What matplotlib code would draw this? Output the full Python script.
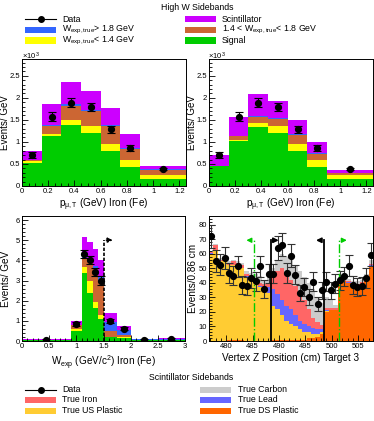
import numpy as np
import matplotlib
matplotlib.use('Agg')
import matplotlib.pyplot as plt
from matplotlib.patches import Rectangle
from matplotlib.lines import Line2D

plt.rcParams['font.family'] = ['Liberation Sans', 'DejaVu Sans']
plt.rcParams['mathtext.fontset'] = 'custom'
plt.rcParams['mathtext.rm'] = 'Liberation Sans'
plt.rcParams['mathtext.it'] = 'Liberation Sans:italic'
plt.rcParams['mathtext.bf'] = 'Liberation Sans:bold'

# ---------------- colours ----------------
C_SIG = '#00cc00'
C_LOW = '#ffff00'
C_MID = '#cc6633'
C_HIGH = '#3366ff'
C_SCI = '#cc00ff'
C_CARBON = '#cccccc'
C_IRON = '#ff6666'
C_LEAD = '#6666ff'
C_USP = '#ffcc33'
C_DSP = '#ff6600'

# ---------------- top panels: p_mu,T (x10^3 events/GeV) ----------------
pt_edges = [0.0, 0.15, 0.30, 0.45, 0.60, 0.75, 0.90, 1.25]
pt_data = [0.70, 1.57, 1.89, 1.79, 1.29, 0.87, 0.38]
pt_err = [0.06, 0.10, 0.10, 0.10, 0.08, 0.07, 0.02]

ptL_signal = [0.52, 1.14, 1.39, 1.21, 0.80, 0.43, 0.15]
ptL_wlow = [0.04, 0.03, 0.10, 0.15, 0.15, 0.17, 0.09]
ptL_wmid = [0.03, 0.20, 0.33, 0.33, 0.41, 0.24, 0.12]
ptL_whigh = [0.01, 0.01, 0.03, 0.03, 0.02, 0.03, 0.02]
ptL_scint = [0.20, 0.48, 0.51, 0.44, 0.38, 0.30, 0.07]

ptR_signal = [0.46, 1.02, 1.34, 1.20, 0.80, 0.43, 0.15]
ptR_wlow = [0.00, 0.03, 0.08, 0.16, 0.16, 0.17, 0.09]
ptR_wmid = [0.00, 0.08, 0.15, 0.16, 0.19, 0.12, 0.06]
ptR_whigh = [0.00, 0.00, 0.02, 0.02, 0.03, 0.03, 0.00]
ptR_scint = [0.25, 0.43, 0.49, 0.38, 0.31, 0.24, 0.07]

# ---------------- bottom-left: W_exp ----------------
w_edges = [0.0, 0.9, 1.1, 1.2, 1.3, 1.4, 1.5, 1.75, 2.0, 2.5, 3.0]
w_data = [0.05, 0.83, 4.30, 4.03, 3.41, 3.00, 1.00, 0.62, 0.05, 0.12]
w_err = [0.03, 0.10, 0.20, 0.20, 0.20, 0.20, 0.10, 0.08, 0.03, 0.05]
w_signal = [0.03, 0.51, 3.36, 2.40, 1.62, 1.10, 0.18, 0.13, 0.03, 0.03]
w_wlow = [0.01, 0.08, 0.33, 0.60, 0.33, 0.20, 0.04, 0.05, 0.01, 0.01]
w_wmid = [0.02, 0.20, 0.41, 0.90, 1.65, 1.70, 0.30, 0.12, 0.02, 0.03]
w_whigh = [0.01, 0.02, 0.05, 0.10, 0.10, 0.20, 0.44, 0.25, 0.02, 0.03]
w_scint = [0.03, 0.19, 1.00, 0.90, 0.85, 0.80, 0.41, 0.21, 0.02, 0.05]
w_cut = 1.5
w_cut_top = 5.0
w_cut_arrow = 1.72

# ---------------- bottom-right: vertex Z ----------------
z_start = 476.75
z_width = 0.84
z_nbins = 37
z_data = [72, 55, 52.6, 57.4, 46.8, 45, 51.4, 38.8, 38.1, 43.4, 41.1, 51.4, 35.8,
          46.4, 46.4, 64, 66.3, 46.8, 58.8, 45.7, 33.0, 37.2, 30.3, 40.9, 25.5,
          34.9, 40.9, 34.9, 39.5, 41.8, 44.5, 51.9, 38.8, 37.2, 38.1, 43.4, 59.4]
z_err = [8, 7.5, 7.3, 7.6, 6.8, 6.7, 7.2, 6.2, 6.2, 6.6, 6.4, 7.2, 6.0,
         6.8, 6.8, 8, 8.1, 6.8, 7.7, 6.8, 5.7, 6.1, 5.5, 6.4, 5.0,
         5.9, 6.4, 5.9, 6.3, 6.5, 6.7, 7.2, 6.2, 6.1, 6.2, 6.6, 7.7]
# stacked levels (bottom to top)
z_dsp_cum = [0.3, 0.3, 0.3, 0.3, 0.5, 0.5, 0.5, 0.5, 0.3, 0.3, 0.3, 0.3, 0.3,
             0.3, 0.5, 0.5, 0.5, 0.5, 1, 1, 1, 1, 2, 2, 3, 5,
             20, 21, 21, 41, 41, 40, 38, 38, 39, 43, 51]
z_usp_cum = [60, 62, 55, 55, 52, 52, 50, 50, 44, 44, 40, 37, 36,
             33, 24, 22, 18, 14, 12, 10, 8, 6, 6, 5, 5, 6,
             20.5, 21, 21, 41, 41, 40, 38, 38, 39, 43, 51]
z_lead_cum = [60.3, 62.3, 55.3, 55.3, 52.3, 52.5, 50.5, 50.5, 44.5, 44.5, 41, 38, 37,
              37, 36, 32, 28, 24, 22, 18, 14, 12, 10, 9, 8, 8,
              21.5, 21.5, 21.5, 41.5, 41.5, 40.5, 38.5, 38.5, 39.5, 43.5, 52]
z_iron_cum = [61, 66, 56, 56, 54, 55, 54, 52, 46, 45.5, 42, 40, 39,
              40, 44, 48, 50, 46, 42, 38, 32, 28, 22, 16, 13, 11,
              23, 22.5, 22.5, 42.5, 42, 41, 39.5, 39.5, 40.5, 44.5, 53]
z_carbon_cum = [62, 67, 57, 57, 55, 56, 55, 54, 48, 47, 46, 45, 42,
                45, 50, 56, 60, 58, 56, 52, 48, 44, 40, 36, 30, 26,
                30, 28, 25, 44, 44, 43, 41, 41, 42, 46, 56]
z_fid_cuts = [485.3, 501.4]      # green dash-dot
z_tgt_cuts = [488.5, 498.5]      # black solid
z_cut_top = 69.3
z_arrow_len = 2.0

fig = plt.figure(figsize=(3.74, 4.21), dpi=100)
W, H = 374.0, 421.0
LAB = 7.2
TICK = 5.5


def px_axes(l, t, r, b):
    return fig.add_axes([l / W, 1 - b / H, (r - l) / W, (b - t) / H])


def style(ax, labx=-0.068):
    ax.tick_params(which='both', direction='in', top=False, right=False,
                   labelsize=TICK, pad=1.4, width=0.6)
    ax.tick_params(which='major', length=4)
    ax.tick_params(which='minor', length=2)
    for s in ax.spines.values():
        s.set_linewidth(0.7)
    ax.yaxis.set_label_coords(labx, 0.5)


def stack(ax, edges, comps, colors):
    base = np.zeros(len(comps[0]))
    for c, col in zip(comps, colors):
        top = base + np.asarray(c)
        ax.stairs(top, edges, baseline=base, fill=True, color=col, lw=0)
        base = top


def draw_pt(ax, comps):
    stack(ax, pt_edges, comps, [C_SIG, C_LOW, C_MID, C_HIGH, C_SCI])
    e = np.asarray(pt_edges)
    ctr = 0.5 * (e[1:] + e[:-1])
    ax.errorbar(ctr, pt_data, yerr=pt_err, fmt='o', color='k', ms=4.2,
                capsize=3, elinewidth=0.8, capthick=0.8)
    ax.set_xlim(0, 1.25)
    ax.set_ylim(0, 2.88)
    ax.set_xticks([0, 0.2, 0.4, 0.6, 0.8, 1.0, 1.2])
    ax.set_xticklabels(['0', '0.2', '0.4', '0.6', '0.8', '1', '1.2'])
    ax.set_xticks(np.arange(0, 1.25, 0.05), minor=True)
    ax.set_yticks([0, 0.5, 1, 1.5, 2, 2.5])
    ax.set_yticklabels(['0', '0.5', '1', '1.5', '2', '2.5'])
    ax.set_yticks(np.arange(0, 2.88, 0.1), minor=True)
    ax.set_xlabel(r'p$_{\rm \mu,T}$ (GeV) Iron (Fe)', fontsize=LAB, labelpad=1.5)
    ax.set_ylabel('Events/ GeV', fontsize=7.0)
    style(ax, labx=-0.074)


axTL = px_axes(22, 59, 186, 186)
draw_pt(axTL, [ptL_signal, ptL_wlow, ptL_wmid, ptL_whigh, ptL_scint])
axTR = px_axes(209, 59, 373, 186)
draw_pt(axTR, [ptR_signal, ptR_wlow, ptR_wmid, ptR_whigh, ptR_scint])
for x in (22, 208):
    fig.text(x / W, 1 - 56 / H, r'$\times$10$^{3}$', fontsize=5.5, va='center', ha='left')

# bottom-left
axBL = px_axes(22, 216, 185, 341)
stack(axBL, w_edges, [w_signal, w_wlow, w_wmid, w_whigh, w_scint],
      [C_SIG, C_LOW, C_MID, C_HIGH, C_SCI])
we = np.asarray(w_edges)
axBL.errorbar(0.5 * (we[1:] + we[:-1]), w_data, yerr=w_err, fmt='o', color='k',
              ms=4.2, capsize=3, elinewidth=0.8, capthick=0.8)
axBL.plot([w_cut, w_cut], [0, w_cut_top], color='k', ls=(0, (2, 1)), lw=1.2)
axBL.annotate('', xy=(w_cut_arrow, w_cut_top), xytext=(w_cut, w_cut_top),
              arrowprops=dict(arrowstyle='-|>', color='k', lw=1.0, ls='--',
                              mutation_scale=7))
axBL.set_xlim(0, 3)
axBL.set_ylim(0, 6.2)
axBL.set_xticks([0, 0.5, 1, 1.5, 2, 2.5, 3])
axBL.set_xticklabels(['0', '0.5', '1', '1.5', '2', '2.5', '3'])
axBL.set_xticks(np.arange(0, 3.01, 0.1), minor=True)
axBL.set_yticks([0, 1, 2, 3, 4, 5, 6])
axBL.set_yticks(np.arange(0, 6.2, 0.2), minor=True)
axBL.set_xlabel(r'W$_{\rm exp}$ (GeV/c$^{2}$) Iron (Fe)', fontsize=LAB, labelpad=2.5)
axBL.set_ylabel('Events/ GeV', fontsize=LAB)
style(axBL)

# bottom-right
axBR = px_axes(209, 216, 373, 341)
z_edges = z_start + z_width * np.arange(z_nbins + 1)
levels = [np.zeros(z_nbins), z_dsp_cum, z_usp_cum, z_lead_cum, z_iron_cum, z_carbon_cum]
for lo, hi, col in zip(levels[:-1], levels[1:], [C_DSP, C_USP, C_LEAD, C_IRON, C_CARBON]):
    axBR.stairs(hi, z_edges, baseline=lo, fill=True, color=col, lw=0)
zc = 0.5 * (z_edges[1:] + z_edges[:-1])
axBR.errorbar(zc, z_data, yerr=z_err, fmt='o', color='k', ecolor='#333333',
              ms=4.2, capsize=3, elinewidth=0.8, capthick=0.8)
for xc, d in zip(z_fid_cuts, [-z_arrow_len, z_arrow_len]):
    axBR.plot([xc, xc], [0, z_cut_top], color='#00cc00', ls='-.', lw=1.0)
    axBR.annotate('', xy=(xc + d, z_cut_top), xytext=(xc, z_cut_top),
                  arrowprops=dict(arrowstyle='-|>', color='#00cc00', lw=1.0,
                                  mutation_scale=7))
for xc, d in zip(z_tgt_cuts, [z_arrow_len, -z_arrow_len]):
    axBR.plot([xc, xc], [0, z_cut_top], color='k', lw=1.3)
    axBR.annotate('', xy=(xc + d, z_cut_top), xytext=(xc, z_cut_top),
                  arrowprops=dict(arrowstyle='-|>', color='k', lw=1.3,
                                  mutation_scale=7))
axBR.set_xlim(z_edges[0], z_edges[-1])
axBR.set_ylim(0, 86)
axBR.set_xticks([480, 485, 490, 495, 500, 505])
axBR.set_xticks(np.arange(477, 508, 1), minor=True)
axBR.set_yticks(np.arange(0, 81, 10))
axBR.set_yticks(np.arange(0, 86, 2), minor=True)
axBR.set_xlabel('Vertex Z Position (cm) Target 3', fontsize=LAB, labelpad=2.5)
axBR.set_ylabel('Events/0.86 cm', fontsize=LAB)
style(axBR)

# ---------------- legends ----------------
LEG = 6.3


def leg_patch(x, y, col):
    fig.patches.append(Rectangle((x / W, 1 - (y + 3) / H), 31 / W, 6 / H,
                                 facecolor=col, edgecolor='none',
                                 transform=fig.transFigure, figure=fig))


def leg_data(x, y):
    fig.lines.append(Line2D([x / W, (x + 31) / W], [1 - y / H, 1 - y / H], color='k',
                            lw=0.8, transform=fig.transFigure, figure=fig))
    fig.lines.append(Line2D([(x + 15.5) / W], [1 - y / H], marker='o', color='k', ms=4,
                            transform=fig.transFigure, figure=fig))


def leg_text(x, y, s):
    fig.text(x / W, 1 - y / H, s, fontsize=LEG, va='center', ha='left')


fig.text(197 / W, 1 - 7 / H, 'High W Sidebands', fontsize=LEG, ha='center', va='center')
leg_data(25, 19); leg_text(62, 19, 'Data')
leg_patch(25, 30, C_HIGH); leg_text(62, 29.5, r'W$_{\rm exp,true}$> 1.8 GeV')
leg_patch(25, 40.5, C_LOW); leg_text(62, 40.5, r'W$_{\rm exp,true}$< 1.4 GeV')
leg_patch(185, 19, C_SCI); leg_text(222, 19, 'Scintillator')
leg_patch(185, 30, C_MID); leg_text(222, 29.5, r'1.4 < W$_{\rm exp,true}$< 1.8 GeV')
leg_patch(185, 40.5, C_SIG); leg_text(222, 40.5, 'Signal')

fig.text(191 / W, 1 - 378 / H, 'Scintillator Sidebands', fontsize=LEG, ha='center', va='center')
leg_data(25, 390); leg_text(62, 390, 'Data')
leg_patch(25, 400, C_IRON); leg_text(62, 400, 'True Iron')
leg_patch(25, 410.5, C_USP); leg_text(62, 410.5, 'True US Plastic')
leg_patch(200, 390, C_CARBON); leg_text(238, 390, 'True Carbon')
leg_patch(200, 400, C_LEAD); leg_text(238, 400, 'True Lead')
leg_patch(200, 410.5, C_DSP); leg_text(238, 410.5, 'True DS Plastic')

fig.savefig('out.png', dpi=100)
